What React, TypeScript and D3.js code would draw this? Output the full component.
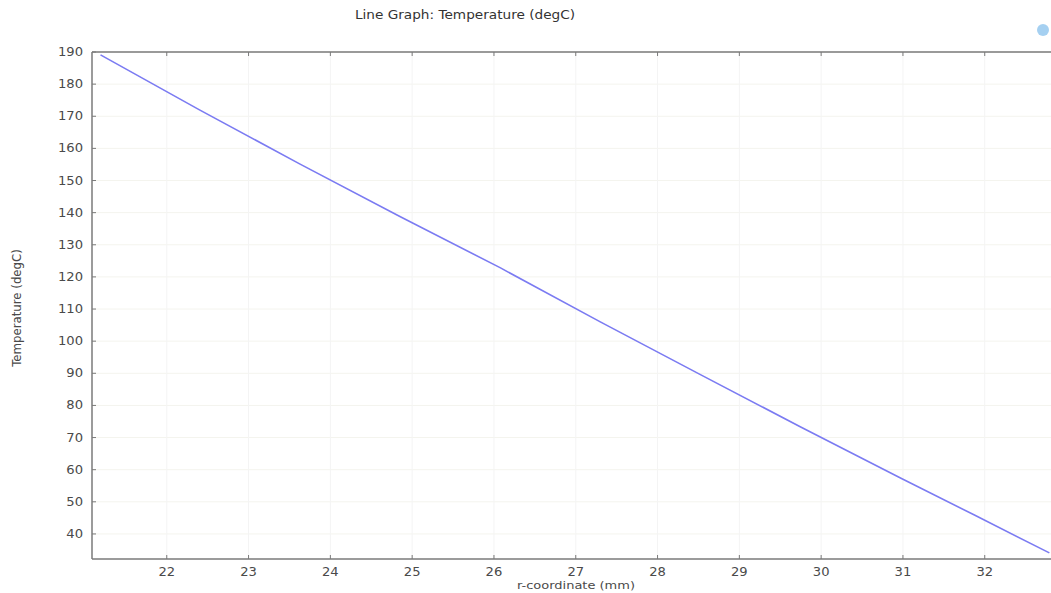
import React from "react";
import * as d3 from "d3";

const rCoord = [21.19, 22.4, 23.63, 24.85, 26.08, 27.3, 28.53, 29.75, 30.97, 31.88, 32.79];
const temperature = [189.1, 172.0, 155.1, 138.8, 122.8, 106.0, 89.5, 73.3, 57.4, 45.8, 34.1];
const xTicks = [22, 23, 24, 25, 26, 27, 28, 29, 30, 31, 32];
const yTicks = [40, 50, 60, 70, 80, 90, 100, 110, 120, 130, 140, 150, 160, 170, 180, 190];

const W = 1051;
const H = 593;
const left = 92;
const top = 52;
const right = 1051;
const bottom = 559;

export default function App() {
  const x = d3.scaleLinear().domain([21.086, 32.81]).range([left, right]);
  const y = d3.scaleLinear().domain([32.2, 190]).range([bottom, top]);
  const line = d3
    .line<number>()
    .x((_, i) => x(rCoord[i]))
    .y((d) => y(d));
  const font = "'DejaVu Sans', sans-serif";
  const axisColor = "#7a7a7a";
  const textColor = "#4a4a4a";
  const sx = 1.25;
  const sy = 1.1;
  return (
    <svg
      width={W}
      height={H}
      style={{ position: "absolute", left: 0, top: 0, background: "#fff" }}
      fontFamily={font}
    >
      {/* faint grid */}
      {yTicks.map((t) => (
        <line key={"gy" + t} x1={left} x2={right} y1={y(t)} y2={y(t)} stroke="#f4f4ee" strokeWidth={1} />
      ))}
      {xTicks.map((t) => (
        <line key={"gx" + t} x1={x(t)} x2={x(t)} y1={top} y2={bottom} stroke="#f4f4f4" strokeWidth={1} />
      ))}
      {/* axes */}
      <line x1={left} x2={right} y1={top} y2={top} stroke={axisColor} strokeWidth={1.5} />
      <line x1={left} x2={right} y1={bottom} y2={bottom} stroke={axisColor} strokeWidth={1.5} />
      <line x1={left} x2={left} y1={top} y2={bottom} stroke={axisColor} strokeWidth={1.5} />
      {xTicks.map((t) => (
        <g key={"xt" + t}>
          <line x1={x(t)} x2={x(t)} y1={bottom} y2={bottom - 4} stroke={axisColor} strokeWidth={1} />
          <line x1={x(t)} x2={x(t)} y1={top} y2={top + 4} stroke={axisColor} strokeWidth={1} />
          <text
            transform={`translate(${x(t)}, ${bottom + 17}) scale(${sx}, ${sy})`}
            textAnchor="middle"
            fontSize={10.5}
            fill={textColor}
          >
            {t}
          </text>
        </g>
      ))}
      {yTicks.map((t) => (
        <g key={"yt" + t}>
          <line x1={left} x2={left + 4} y1={y(t)} y2={y(t)} stroke={axisColor} strokeWidth={1} />
          <text
            transform={`translate(${left - 9}, ${y(t)}) scale(${sx}, ${sy})`}
            dy="0.35em"
            textAnchor="end"
            fontSize={10.5}
            fill={textColor}
          >
            {t}
          </text>
        </g>
      ))}
      {/* data line */}
      <path d={line(temperature) || ""} fill="none" stroke="#7b7bf2" strokeWidth={1.6} />
      {/* titles */}
      <text
        transform={`translate(465, 19) scale(1.3, 1.12)`}
        textAnchor="middle"
        fontSize={10.5}
        fill="#333"
      >
        Line Graph: Temperature (degC)
      </text>
      <text
        transform={`translate(576, 589) scale(1.3, 1.05)`}
        textAnchor="middle"
        fontSize={10}
        fill={textColor}
      >
        r-coordinate (mm)
      </text>
      <text
        transform={`translate(21, 308) rotate(-90) scale(1.12, 1.25)`}
        textAnchor="middle"
        fontSize={10.5}
        fill={textColor}
      >
        Temperature (degC)
      </text>
      {/* small icon top-right */}
      <circle cx={1043} cy={30} r={6} fill="#8fc4ee" opacity={0.8} />
    </svg>
  );
}
